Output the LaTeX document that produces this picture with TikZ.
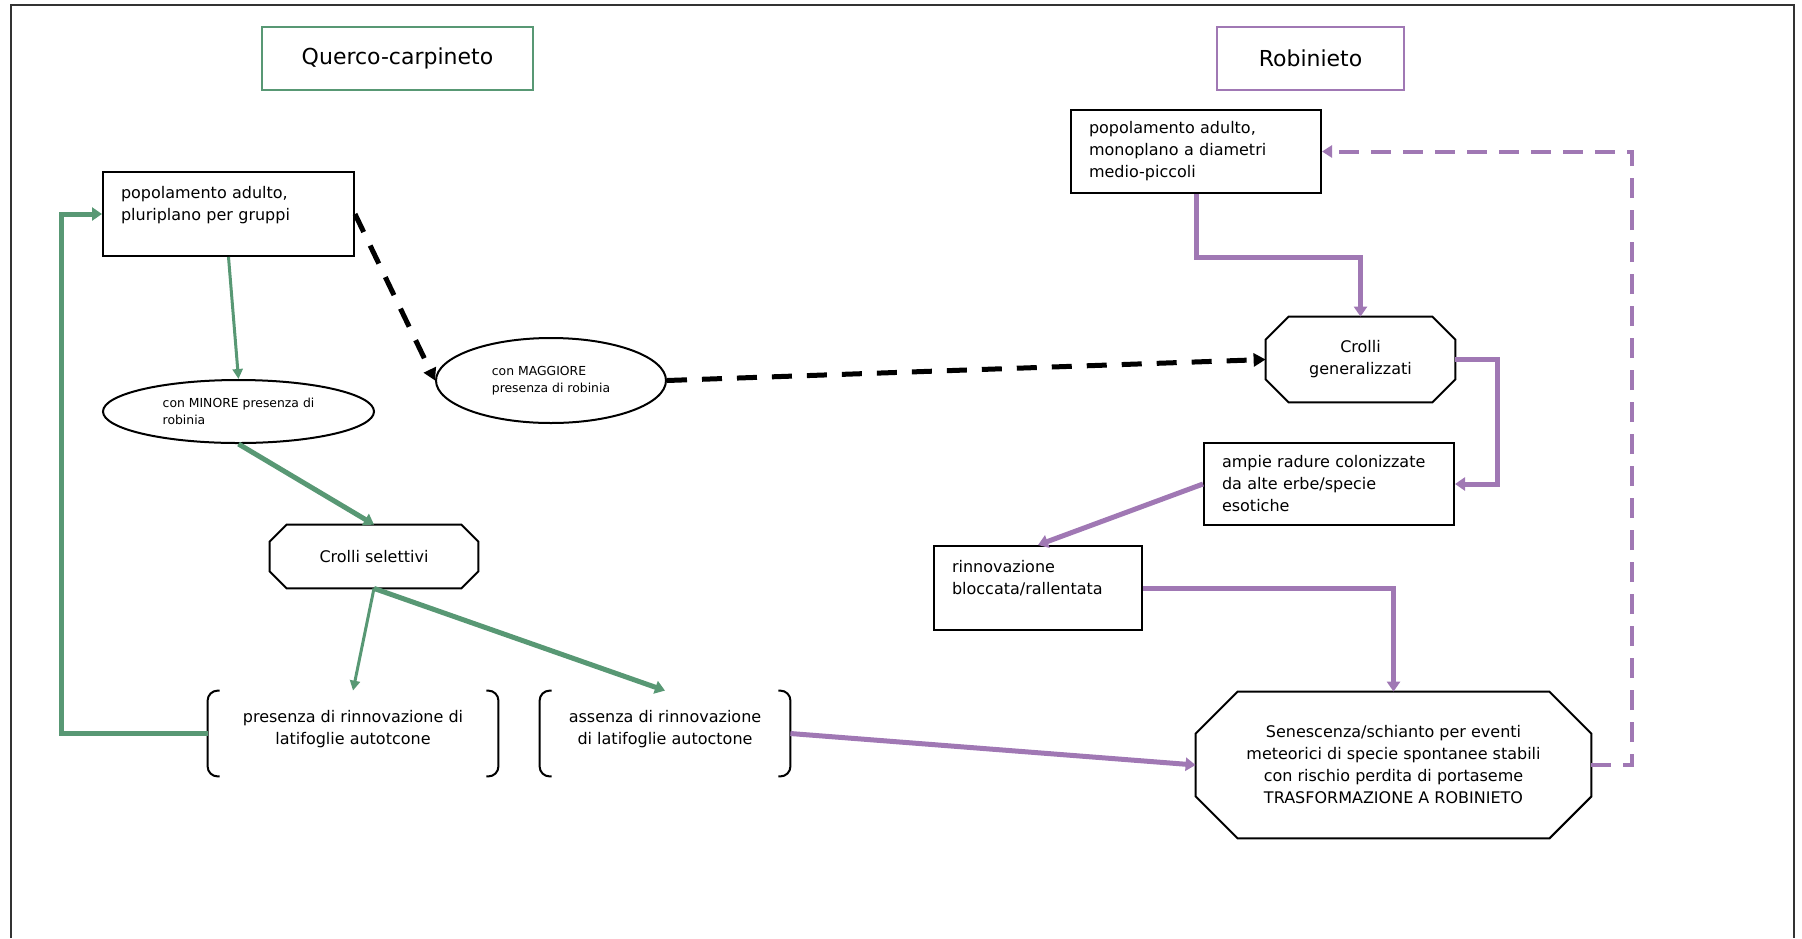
\documentclass[tikz,border=0pt]{standalone}
\usepackage{fontspec}
\setmainfont{DejaVu Sans}
\usepackage{tikz}
\usetikzlibrary{arrows.meta, shapes.geometric}
\definecolor{quercia}{RGB}{88,152,116}
\definecolor{robinia}{RGB}{160,120,180}

\begin{document}
\begin{tikzpicture}[x=.5pt, y=-.5pt,
	every node/.style={font=\fontsize{8}{11}\selectfont},
	titolo/.style={draw, line width=.8pt, minimum height=31.5pt, font=\fontsize{11}{13}\selectfont},
	stato/.style={draw, line width=1pt, rectangle, align=left, inner xsep=9pt, inner ysep=0pt},
	ovale/.style={draw, line width=1pt, ellipse, align=left, inner sep=0pt, font=\fontsize{6.2}{8.5}\selectfont},
	crollo/.style={rectangle, align=center, inner sep=0pt, append after command={\pgfextra{\draw[line width=1pt]
		([xshift=#1]\tikzlastnode.north west) -- ([xshift=-#1]\tikzlastnode.north east) -- ([yshift=-#1]\tikzlastnode.north east) --
		([yshift=#1]\tikzlastnode.south east) -- ([xshift=-#1]\tikzlastnode.south east) -- ([xshift=#1]\tikzlastnode.south west) --
		([yshift=#1]\tikzlastnode.south west) -- ([yshift=-#1]\tikzlastnode.north west) -- cycle;}}},
	parentesi/.style={align=center, inner sep=0pt, minimum height=42.5pt},
	verde/.style={draw=quercia, line width=2.5pt, -{Triangle[length=5pt,width=6.5pt]}},
	verdesottile/.style={draw=quercia, line width=1.5pt, -{Triangle[length=5pt,width=5pt]}},
	viola/.style={draw=robinia, line width=2.5pt, -{Triangle[length=5pt,width=6.5pt]}},
	violatratto/.style={draw=robinia, line width=2pt, dash pattern=on 10pt off 6pt, -{Triangle[length=5pt,width=6pt]}},
	nero/.style={draw=black, line width=2.5pt, dash pattern=on 10pt off 7.5pt, -{Triangle[length=6pt,width=6.5pt]}}]
	\useasboundingbox (0,0) rectangle (1802,938);
	\draw[line width=1pt, color=black!80] (11,938) |- (1794,5) -- (1794,938);

	\node[titolo, draw=quercia, minimum width=135.5pt] (querco) at (397.5,58.5) {Querco-carpineto};
	\node[titolo, draw=robinia, minimum width=93.5pt] (robinieto) at (1310.5,58.5) {Robinieto};

	\node[stato, text width=107.5pt, minimum height=42pt] (adultoQ) at (228.5,214) {popolamento adulto,\\pluriplano per gruppi\\\mbox{}};
	\node[ovale, minimum width=135.5pt, minimum height=31.5pt] (minore) at (238.5,411.5) {con MINORE presenza di\\robinia};
	\node[ovale, minimum width=115pt, minimum height=42.5pt] (maggiore) at (551,380.5) {con MAGGIORE\\presenza di robinia};
	\node[crollo=8.5pt, minimum width=104pt, minimum height=31.5pt] (selettivi) at (374,556.5) {Crolli selettivi};
	\node[parentesi, minimum width=145pt] (presenza) at (353,733.5) {presenza di rinnovazione di\\latifoglie autotcone\\[-5pt]};
	\node[parentesi, minimum width=125pt] (assenza) at (665,733.5) {assenza di rinnovazione\\di latifoglie autoctone\\[-5pt]};

	\node[stato, text width=107pt, minimum height=41.5pt] (adultoR) at (1196,151.5) {popolamento adulto,\\monoplano a diametri\\medio-piccoli};
	\node[crollo=11.5pt, minimum width=94.5pt, minimum height=42.5pt] (generali) at (1360.5,359.5) {Crolli\\generalizzati};
	\node[stato, text width=107pt, minimum height=41pt] (radure) at (1329,484) {ampie radure colonizzate\\da alte erbe/specie\\esotiche};
	\node[stato, text width=86pt, minimum height=42pt] (bloccata) at (1038,588) {rinnovazione\\bloccata/rallentata\\\mbox{}};
	\node[crollo=21pt, minimum width=197.5pt, minimum height=73pt] (senescenza) at (1393.5,765) {Senescenza/schianto per eventi\\meteorici di specie spontanee stabili\\con rischio perdita di portaseme\\TRASFORMAZIONE A ROBINIETO};

	\foreach \n in {presenza, assenza} {
		\draw[line width=1pt, rounded corners=5pt] ([xshift=6pt]\n.north west) -| (\n.south west) -- ++(6pt,0);
		\draw[line width=1pt, rounded corners=5pt] ([xshift=-6pt]\n.north east) -| (\n.south east) -- ++(-6pt,0);
	}

	\draw[verdesottile] (adultoQ.south) -- (minore.north);
	\draw[verde] (minore.south) -- (selettivi.north);
	\draw[verdesottile] (selettivi.south) -- (presenza.north);
	\draw[verde] (selettivi.south) -- (assenza.north);
	\coordinate (ritorno) at (61,733.5);
	\draw[verde] (presenza.west) -- (ritorno) |- (adultoQ.west);
	\draw[nero] (adultoQ.east) -- (maggiore.west);
	\draw[nero] (maggiore.east) -- (generali.west);

	\draw[viola] (adultoR.south) -- ++(0,63) -| (generali.north);
	\draw[viola] (generali.east) -- ++(42,0) |- (radure.east);
	\draw[viola] (radure.west) -- (bloccata.north);
	\draw[viola] (bloccata.east) -| (senescenza.north);
	\draw[viola] (assenza.east) -- (senescenza.west);
	\draw[violatratto] (senescenza.east) -- ++(41,0) |- (adultoR.east);
\end{tikzpicture}
\end{document}
